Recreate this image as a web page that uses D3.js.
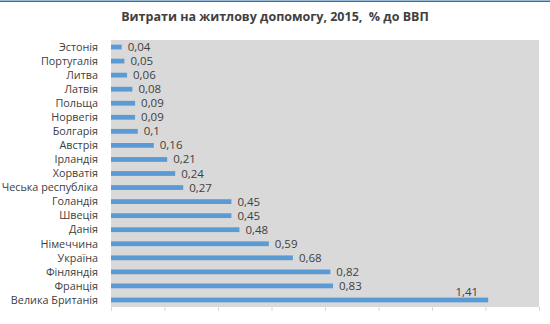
<!DOCTYPE html>
<html><head><meta charset="utf-8">
<script src="https://cdn.jsdelivr.net/npm/d3@7"></script>
<style>body{margin:0;background:#fff}svg{display:block}</style>
</head><body><svg id="c" width="550" height="324"></svg>
<script>
const title = "Витрати на житлову допомогу, 2015,  % до ВВП";
const countries = ["Эстонія","Португалія","Литва","Латвія","Польща","Норвегія","Болгарія","Австрія","Ірландія","Хорватія","Чеська республіка","Голандія","Швеція","Данія","Німеччина","Україна","Фінляндія","Франція","Велика Британія"];
const values = [0.04,0.05,0.06,0.08,0.09,0.09,0.1,0.16,0.21,0.24,0.27,0.45,0.45,0.48,0.59,0.68,0.82,0.83,1.41];
const xTicks = [0,0.2,0.4,0.6,0.8,1.0,1.2,1.4,1.6];

const svg = d3.select("#c");
const font = "'Open Sans', 'Noto Sans', sans-serif";
const txt = "#404040";
const L = 111, R = 539, T = 40, B = 307;

svg.append("rect").attr("x",0).attr("y",0.5).attr("width",550).attr("height",1.5).attr("fill","#2e75b6");

svg.append("text").attr("x",275).attr("y",21).attr("text-anchor","middle")
  .style("white-space","pre")
  .attr("font-family",font).attr("font-weight","bold").attr("font-size",12.5).attr("fill",txt).text(title);

svg.append("rect").attr("x",L).attr("y",T).attr("width",R-L).attr("height",B-T).attr("fill","#d9d9d9");

const x = d3.scaleLinear().domain([0,1.6]).range([L,R]);
const y = d3.scaleBand().domain(countries).range([T,B]).paddingInner(0.66).paddingOuter(0.33);

const ax = svg.append("g").attr("transform",`translate(0,${B})`)
  .call(d3.axisBottom(x).tickValues(xTicks).tickSize(4).tickFormat(""));
ax.select(".domain").remove();
ax.selectAll(".tick line").attr("stroke","#d9d9d9");

const ay = svg.append("g").attr("transform",`translate(${L-13},0)`)
  .call(d3.axisLeft(y).tickSize(0).tickPadding(0));
ay.select(".domain").remove();
ay.selectAll("text").attr("font-family",font).attr("font-size",10.8).attr("fill",txt).attr("dy","0.35em");

const data = countries.map((c,i)=>({c, v: values[i]}));
svg.append("g").selectAll("rect").data(data).join("rect")
  .attr("x",x(0)).attr("y",d=>y(d.c)).attr("width",d=>x(d.v)-x(0)).attr("height",y.bandwidth())
  .attr("fill","#5b9bd5");

const maxV = d3.max(values);
svg.append("g").selectAll("text").data(data).join("text")
  .attr("x",d=> d.v===maxV ? x(d.v)-10 : x(d.v)+6)
  .attr("y",d=> d.v===maxV ? y(d.c)-2 : y(d.c)+y.bandwidth()/2)
  .attr("dy", d=> d.v===maxV ? "0" : "0.35em")
  .attr("text-anchor", d=> d.v===maxV ? "end" : "start")
  .attr("font-family",font).attr("font-size",11.5).attr("fill",txt)
  .text(d=>String(d.v).replace(".",","));
</script></body></html>
